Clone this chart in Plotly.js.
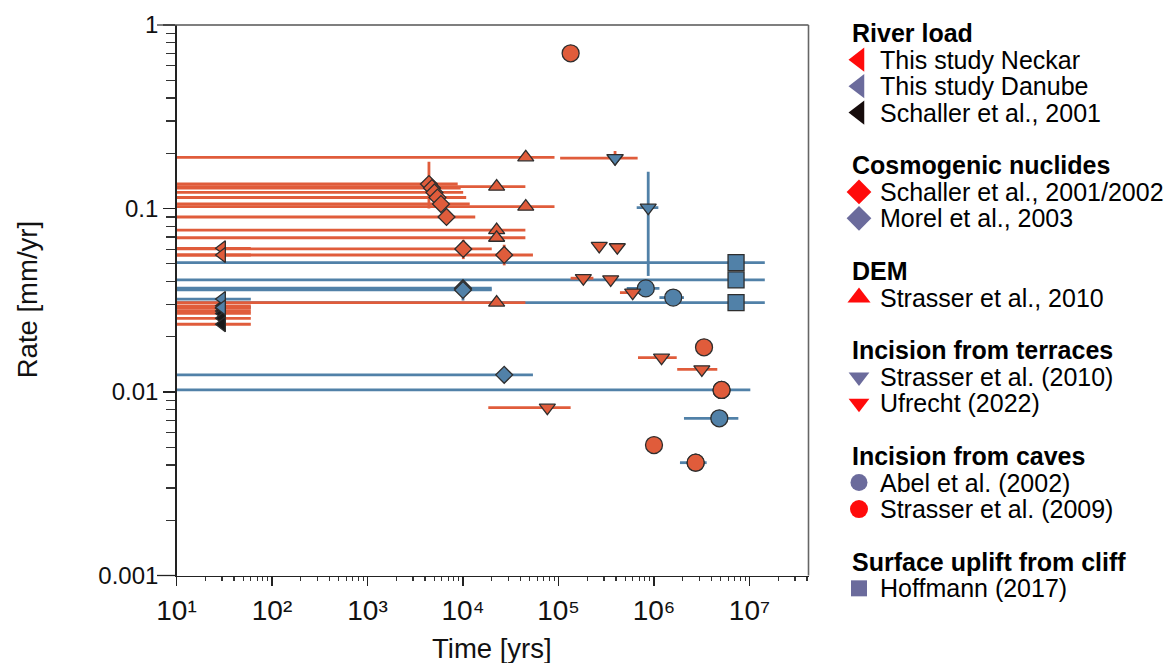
<!DOCTYPE html>
<html>
<head>
<meta charset="utf-8">
<script src="https://cdn.plot.ly/plotly-3.0.1.min.js"></script>
<style>html,body{margin:0;padding:0;background:#ffffff;}</style>
</head>
<body>
<div id="chart" style="width:1171px;height:663px;"></div>
<script>
// ================= DATA =================
// Axis ticks
const xTickExponents = [1, 2, 3, 4, 5, 6, 7];
const xTickLabels = ['10¹', '10²', '10³', '10⁴', '10⁵', '10⁶', '10⁷'];
const yTickValues = [0.001, 0.01, 0.1, 1];
const yTickLabels = ['0.001', '0.01', '0.1', '1'];

// River load – This study Neckar
const neckarTime = [30, 30];
const neckarRate = [0.0607, 0.0558];
const neckarTimeMin = [10, 10];
const neckarTimeMax = [60, 60];

// River load – This study Danube
const danubeTime = [30, 30];
const danubeRate = [0.0321, 0.0289];
const danubeTimeMin = [10, 10];
const danubeTimeMax = [60, 60];

// River load – Schaller et al., 2001
const schaller01Time = [30, 30, 30, 30, 30, 30];
const schaller01Rate = [0.0295, 0.0286, 0.0276, 0.0268, 0.0252, 0.0234];
const schaller01TimeMin = [10, 10, 10, 10, 10, 10];
const schaller01TimeMax = [60, 60, 60, 60, 60, 60];

// Cosmogenic nuclides – Schaller et al., 2001/2002
const schallerCnTime = [4400, 4730, 5020, 5400, 5880, 6720, 10070, 27000];
const schallerCnRate = [0.1360, 0.1293, 0.1223, 0.1148, 0.1058, 0.0899, 0.0602, 0.0558];
const schallerCnTimeMin = [10, 10, 10, 10, 10, 10, 10, 10];
const schallerCnTimeMax = [8800, 9460, 10040, 10800, 11760, 13440, 20000, 54000];
const schallerCnRateMin = [0.100, null, null, null, null, null, 0.053, 0.049];
const schallerCnRateMax = [0.180, null, null, null, null, null, 0.0675, 0.0635];

// Cosmogenic nuclides – Morel et al., 2003
const morelTime = [10000, 10000, 27000];
const morelRate = [0.0368, 0.0360, 0.0124];
const morelTimeMin = [10, 10, 10];
const morelTimeMax = [20000, 20000, 54000];
const morelRateMin = [null, 0.0315, null];
const morelRateMax = [null, 0.039, null];

// DEM – Strasser et al., 2010
const demTime = [45400, 22500, 45400, 22500, 22500, 22500];
const demRate = [0.1901, 0.1315, 0.1023, 0.0763, 0.0693, 0.0307];
const demTimeMin = [10, 10, 10, 10, 10, 10];
const demTimeMax = [90800, 45000, 90800, 45000, 45000, 45000];

// Incision from terraces – Strasser et al. (2010)
const terraceStrasserTime = [391000, 870000];
const terraceStrasserRate = [0.188, 0.101];
const terraceStrasserTimeMin = [null, 659000];
const terraceStrasserTimeMax = [null, 1110000];
const terraceStrasserRateMin = [null, 0.0429];
const terraceStrasserRateMax = [null, 0.1587];

// Incision from terraces – Ufrecht (2022)
const ufrechtTime = [391000, 267000, 413000, 182000, 352000, 598000, 1200000, 3170000, 76400];
const ufrechtRate = [0.188, 0.0625, 0.0615, 0.0417, 0.0411, 0.0348, 0.01538, 0.01329, 0.00821];
const ufrechtTimeMin = [104000, null, null, 134000, null, 440000, 680000, 1750000, 18400];
const ufrechtTimeMax = [674000, null, null, 232000, null, 767000, 1730000, 4600000, 134000];
const ufrechtRateMin = [0.175, null, null, null, null, null, null, null, null];
const ufrechtRateMax = [0.206, null, null, null, null, null, null, null, null];

// Incision from caves – Abel et al. (2002)
const abelTime = [5100000, 2730000, 820000, 1590000, 4830000];
const abelRate = [0.01026, 0.00412, 0.0367, 0.0327, 0.00719];
const abelTimeMin = [10, 1870000, 518000, 1140000, 2060000];
const abelTimeMax = [10200000, 3560000, 1140000, 2060000, 7640000];

// Incision from caves – Strasser et al. (2009)
const strasser09Time = [134000, 3340000, 5100000, 1000000, 2730000];
const strasser09Rate = [0.701, 0.01752, 0.01026, 0.00514, 0.00412];

// Surface uplift from cliff – Hoffmann (2017)
const hoffmannTime = [7230000, 7230000, 7230000];
const hoffmannRate = [0.0507, 0.0408, 0.0307];
const hoffmannTimeMin = [10, 10, 10];
const hoffmannTimeMax = [14460000, 14460000, 14460000];

// Legend texts
const legendTitles = ['River load', 'Cosmogenic nuclides', 'DEM',
  'Incision from terraces', 'Incision from caves', 'Surface uplift from cliff'];
const legendLabels = [
  ['This study Neckar', 'This study Danube', 'Schaller et al., 2001'],
  ['Schaller et al., 2001/2002', 'Morel et al., 2003'],
  ['Strasser et al., 2010'],
  ['Strasser et al. (2010)', 'Ufrecht (2022)'],
  ['Abel et al. (2002)', 'Strasser et al. (2009)'],
  ['Hoffmann (2017)']
];

// ================= STYLE =================
const ORANGE = '#e05c3b';
const BLUE = '#5181a8';
const EDGE = '#2e2e2e';
const LEG_RED = '#ff0b0b';
const LEG_SLATE = '#6b6b9c';
const LEG_BLACK = '#160c0c';
const FONT = 'Liberation Sans, Arial, Helvetica, sans-serif';

const legendStyle = [
  [['triangle-left', LEG_RED, 21], ['triangle-left', LEG_SLATE, 21], ['triangle-left', LEG_BLACK, 21]],
  [['diamond', LEG_RED, 19], ['diamond', LEG_SLATE, 19]],
  [['triangle-up', LEG_RED, 20]],
  [['triangle-down', LEG_SLATE, 18], ['triangle-down', LEG_RED, 18]],
  [['circle', LEG_SLATE, 17], ['circle', LEG_RED, 18]],
  [['square', LEG_SLATE, 16]]
];

// series in marker drawing order
const series = [
  {t: demTime, r: demRate, tMin: demTimeMin, tMax: demTimeMax, sym: 'triangle-up', size: 14, color: ORANGE, bar: ORANGE},
  {t: schallerCnTime, r: schallerCnRate, tMin: schallerCnTimeMin, tMax: schallerCnTimeMax, rMin: schallerCnRateMin, rMax: schallerCnRateMax, sym: 'diamond', size: 13, color: ORANGE, bar: ORANGE},
  {t: morelTime, r: morelRate, tMin: morelTimeMin, tMax: morelTimeMax, rMin: morelRateMin, rMax: morelRateMax, sym: 'diamond', size: 13, color: BLUE, bar: BLUE},
  {t: schaller01Time, r: schaller01Rate, tMin: schaller01TimeMin, tMax: schaller01TimeMax, sym: 'triangle-left', size: 13, color: '#1a1a1a', bar: ORANGE},
  {t: danubeTime, r: danubeRate, tMin: danubeTimeMin, tMax: danubeTimeMax, sym: 'triangle-left', size: 13, color: BLUE, bar: BLUE},
  {t: neckarTime, r: neckarRate, tMin: neckarTimeMin, tMax: neckarTimeMax, sym: 'triangle-left', size: 13, color: ORANGE, bar: ORANGE},
  {t: abelTime, r: abelRate, tMin: abelTimeMin, tMax: abelTimeMax, sym: 'circle', size: 17, color: BLUE, bar: BLUE},
  {t: strasser09Time, r: strasser09Rate, sym: 'circle', size: 17, color: ORANGE, bar: ORANGE},
  {t: ufrechtTime, r: ufrechtRate, tMin: ufrechtTimeMin, tMax: ufrechtTimeMax, rMin: ufrechtRateMin, rMax: ufrechtRateMax, sym: 'triangle-down', size: 14, color: ORANGE, bar: ORANGE},
  {t: terraceStrasserTime, r: terraceStrasserRate, tMin: terraceStrasserTimeMin, tMax: terraceStrasserTimeMax, rMin: terraceStrasserRateMin, rMax: terraceStrasserRateMax, sym: 'triangle-down', size: 14, color: BLUE, bar: BLUE},
  {t: hoffmannTime, r: hoffmannRate, tMin: hoffmannTimeMin, tMax: hoffmannTimeMax, sym: 'square', size: 16, color: BLUE, bar: BLUE}
];

// ================= BUILD TRACES =================
function rangeTrace(color) {
  const x = [], y = [];
  series.filter(s => s.bar === color).forEach(s => {
    s.t.forEach((t, i) => {
      if (s.tMin && s.tMin[i] != null) { x.push(s.tMin[i], s.tMax[i], null); y.push(s.r[i], s.r[i], null); }
      if (s.rMin && s.rMin[i] != null) { x.push(t, t, null); y.push(s.rMin[i], s.rMax[i], null); }
    });
  });
  return {type: 'scatter', mode: 'lines', x: x, y: y, xaxis: 'x', yaxis: 'y',
    line: {color: color, width: 2.8}, hoverinfo: 'skip', showlegend: false};
}

const traces = [rangeTrace(BLUE), rangeTrace(ORANGE)];
series.forEach(s => {
  traces.push({type: 'scatter', mode: 'markers', x: s.t, y: s.r, xaxis: 'x', yaxis: 'y',
    marker: {symbol: s.sym, size: s.size, color: s.color, opacity: 1, line: {color: EDGE, width: 1.3}},
    hoverinfo: 'skip', showlegend: false});
});

// ---- custom legend (on an auxiliary pixel-unit axis pair) ----
const W = 1171, H = 663;
const PL = 176.5, PR = 808.5, PT = 25, PB = 575.5;
const ROW0 = 33.3, PITCH = 26.43;
const LEG_MARK_X = 859, LEG_TEXT_X = 877.5, LEG_TITLE_X = 850;

const annotations = [];
const legX = [], legY = [], legSym = [], legCol = [], legSize = [];
let row = 0;
legendTitles.forEach((title, g) => {
  annotations.push({xref: 'x2', yref: 'y2', x: LEG_TITLE_X, y: ROW0 + row * PITCH,
    xanchor: 'left', yanchor: 'middle', showarrow: false, text: '<b>' + title + '</b>',
    font: {family: FONT, size: 25, color: '#000'}});
  row++;
  legendLabels[g].forEach((lab, k) => {
    const st = legendStyle[g][k];
    legX.push(LEG_MARK_X); legY.push(ROW0 + row * PITCH);
    legSym.push(st[0]); legCol.push(st[1]); legSize.push(st[2]);
    annotations.push({xref: 'x2', yref: 'y2', x: LEG_TEXT_X, y: ROW0 + row * PITCH,
      xanchor: 'left', yanchor: 'middle', showarrow: false, text: lab,
      font: {family: FONT, size: 25, color: '#000'}});
    row++;
  });
  row++;
});
traces.push({type: 'scatter', mode: 'markers', x: legX, y: legY, xaxis: 'x2', yaxis: 'y2',
  marker: {symbol: legSym, color: legCol, size: legSize, opacity: 1, line: {width: 0}},
  hoverinfo: 'skip', showlegend: false, cliponaxis: false});

// axis titles
annotations.push({xref: 'paper', yref: 'y2', x: ((PL + PR) / 2) / W, y: 648, xanchor: 'center', yanchor: 'middle',
  showarrow: false, text: 'Time [yrs]', font: {family: FONT, size: 27.5, color: '#111'}});
annotations.push({xref: 'x2', yref: 'y2', x: 27, y: (PT + PB) / 2, xanchor: 'center', yanchor: 'middle',
  textangle: -90, showarrow: false, text: 'Rate [mm/yr]', font: {family: FONT, size: 27.5, color: '#111'}});

// ticks
const xTickVals = xTickExponents.map(e => Math.pow(10, e));
const xMax = 1 + (PR - PL) / 95.5;
const xMinor = [];
for (let e = 1; e <= 7; e++) for (let m = 2; m <= 9; m++) { const v = m * Math.pow(10, e); if (Math.log10(v) < xMax) xMinor.push(v); }
const yMinor = [];
for (let e = -3; e <= -1; e++) for (let m = 2; m <= 9; m++) yMinor.push(m * Math.pow(10, e));

const layout = {
  width: W, height: H,
  margin: {l: 0, r: 0, t: 0, b: 0},
  paper_bgcolor: '#ffffff', plot_bgcolor: 'rgba(0,0,0,0)',
  showlegend: false, hovermode: false,
  font: {family: FONT, size: 24, color: '#111'},
  xaxis: {type: 'log', domain: [PL / W, PR / W], range: [1, xMax], anchor: 'y',
    tickmode: 'array', tickvals: xTickVals, ticktext: xTickLabels,
    ticks: 'outside', ticklen: 9, tickwidth: 1.3, tickcolor: '#222',
    showline: true, linecolor: '#222', linewidth: 1.3, showgrid: false, zeroline: false,
    tickfont: {family: FONT, size: 28, color: '#111'}, ticklabelstandoff: 1,
    minor: {tickmode: 'array', tickvals: xMinor, ticks: 'outside', ticklen: 4.5, tickwidth: 1.2, tickcolor: '#333', showgrid: false},
    fixedrange: true},
  yaxis: {type: 'log', domain: [1 - PB / H, 1 - PT / H], range: [-3, 0], anchor: 'x',
    tickmode: 'array', tickvals: yTickValues, ticktext: yTickLabels,
    ticks: 'outside', ticklen: 12, tickwidth: 1.3, tickcolor: '#222',
    showline: true, linecolor: '#222', linewidth: 1.3, showgrid: false, zeroline: false,
    tickfont: {family: FONT, size: 24, color: '#111'},
    minor: {tickmode: 'array', tickvals: yMinor, ticks: 'outside', ticklen: 9.5, tickwidth: 1.2, tickcolor: '#333', showgrid: false},
    fixedrange: true},
  xaxis2: {domain: [0, 1], range: [0, W], anchor: 'y2', visible: false, fixedrange: true},
  yaxis2: {domain: [0, 1], range: [H, 0], anchor: 'x2', visible: false, fixedrange: true},
  shapes: [
    {type: 'line', xref: 'paper', yref: 'paper', x0: 157 / W, x1: PR / W, y0: 1 - PT / H, y1: 1 - PT / H, line: {color: '#555', width: 1.6}},
    {type: 'line', xref: 'paper', yref: 'paper', x0: PR / W, x1: PR / W, y0: 1 - PB / H, y1: 1 - PT / H, line: {color: '#666', width: 1.6}},
    {type: 'line', xref: 'paper', yref: 'paper', x0: 157 / W, x1: PL / W, y0: 1 - PB / H, y1: 1 - PB / H, line: {color: '#222', width: 1.3}}
  ],
  annotations: annotations
};

Plotly.newPlot('chart', traces, layout, {displayModeBar: false, staticPlot: true});
</script>
</body>
</html>
